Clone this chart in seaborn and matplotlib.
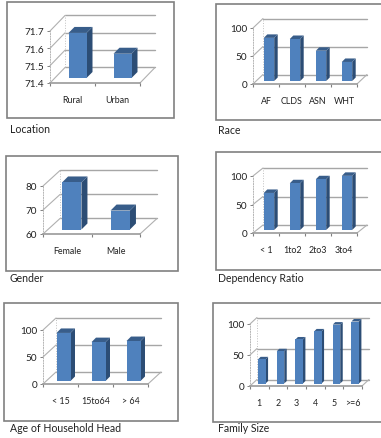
import matplotlib
matplotlib.use("Agg")
import matplotlib.pyplot as plt
import seaborn as sns
import pandas as pd
from matplotlib.patches import Polygon, Rectangle
from matplotlib.transforms import Affine2D, IdentityTransform

# valores
location_cat = ["Rural", "Urban"]
location_val = [71.66, 71.54]
race_cat = ["AF", "CLDS", "ASN", "WHT"]
race_val = [77, 75, 54, 34]
gender_cat = ["Female", "Male"]
gender_val = [79.6, 67.9]
dep_cat = ["< 1", "1to2", "2to3", "3to4"]
dep_val = [65, 82, 89, 95]
age_cat = ["< 15", "15to64", "> 64"]
age_val = [89, 72, 74]
family_cat = ["1", "2", "3", "4", "5", ">=6"]
family_val = [39, 52, 71, 84, 95, 100]

W, H = 381, 439
FONT = "Lato"

sns.set_theme(style="white")
plt.rcParams["font.family"] = FONT

fig = plt.figure(figsize=(W / 100, H / 100), dpi=100)
fig.patch.set_facecolor("white")


def painel(cat, val, yticks, ylabels, legenda, frame, eixo, prof, d, esp):
    # frame = x0,y0,x1,y1 em pixels / eixo = x0,x1,y_chao,y_topo
    fx0, fy0, fx1, fy1 = frame
    fig.add_artist(Rectangle((fx0 / W, 1 - fy1 / H), (fx1 - fx0) / W, (fy1 - fy0) / H,
                             transform=fig.transFigure, fc="white", ec="#808080", lw=1.2, zorder=-1))
    x0, x1, yc, yt = eixo
    ax = fig.add_axes([x0 / W, 1 - yc / H, (x1 - x0) / W, (yc - yt) / H])
    ax.patch.set_alpha(0)
    df = pd.DataFrame({"cat": cat, "val": val})
    sns.barplot(data=df, x="cat", y="val", ax=ax, color="#4f81bd", saturation=1, width=0.4)
    n = len(cat)
    ymin, ymax = yticks[0], yticks[-1]
    ax.set_xlim(-0.5, n - 0.5)
    ax.set_ylim(ymin, ymax)
    ax.set_xlabel("")
    ax.set_ylabel("")

    dx, dy = prof
    fundo = ax.transData + Affine2D().translate(dx, dy)
    # grade do fundo e parede
    for t in yticks:
        ax.plot([-0.5, n - 0.5], [t, t], transform=fundo, color="#a6a6a6", lw=1, clip_on=False, zorder=1)
        ax.plot([-0.5, -0.5 + dx / (x1 - x0) * n], [t, t + dy / (yc - yt) * (ymax - ymin)],
                color="#b0b0b0", lw=0.8, clip_on=False, zorder=1)
    ax.plot([n - 0.5, n - 0.5 + dx / (x1 - x0) * n], [ymin, ymin + dy / (yc - yt) * (ymax - ymin)],
            color="#b0b0b0", lw=0.8, clip_on=False, zorder=1)
    ax.plot([-0.5, -0.5], [ymin, ymax], transform=fundo, color="#c0c0c0", lw=0.7, ls=":", clip_on=False, zorder=1)

    # barras com lado e topo
    desloca = ax.transData + Affine2D().translate(d, d)
    for p in ax.patches:
        topo = p.get_y() + p.get_height()
        p.set_y(ymin)
        p.set_height(topo - ymin)
        p.set_transform(desloca)
        p.set_clip_on(False)
        p.set_linewidth(0)
        p.set_zorder(4)
        xa, xb = p.get_x(), p.get_x() + p.get_width()
        (pa, pt), (pb, pc) = desloca.transform([(xa, topo), (xb, ymin)])
        ax.add_patch(Polygon([(pb, pc), (pb + esp, pc + esp), (pb + esp, pt + esp), (pb, pt)],
                             transform=IdentityTransform(), fc="#2c4d75", lw=0, clip_on=False, zorder=3))
        ax.add_patch(Polygon([(pa, pt), (pb, pt), (pb + esp, pt + esp), (pa + esp, pt + esp)],
                             transform=IdentityTransform(), fc="#385d8a", lw=0, clip_on=False, zorder=3))

    sns.despine(ax=ax, top=True, right=True)
    ax.spines["bottom"].set_color("#9a9a9a")
    ax.spines["bottom"].set_linewidth(1.2)
    ax.spines["left"].set_color("#b5b5b5")
    ax.spines["left"].set_linewidth(0.7)
    ax.spines["left"].set_linestyle(":")
    ax.set_yticks(yticks, ylabels)
    ax.set_xticks(range(n), cat)
    ax.set_xticks([i - 0.5 for i in range(n + 1)], minor=True)
    ax.tick_params(axis="x", which="major", length=0, pad=8.5, labelsize=6.4, labelcolor="#222222")
    ax.tick_params(axis="x", which="minor", bottom=True, length=2, width=0.8, color="#808080")
    ax.tick_params(axis="y", left=True, length=2.5, width=0.7, color="#808080", pad=1.5,
                   labelsize=7.2, labelcolor="#222222")
    fig.text(legenda[0] / W, 1 - legenda[1] / H, legenda[2], fontsize=7.6, color="#222222",
             ha="left", va="center")


painel(location_cat, location_val, [71.4, 71.5, 71.6, 71.7], ["71.4", "71.5", "71.6", "71.7"],
       (10, 130, "Location"), (7, 3, 174, 119), (50, 140, 84, 32), (15, 15.5), 5, 6)
painel(race_cat, race_val, [0, 50, 100], ["0", "50", "100"],
       (218, 131, "Race"), (216, 5, 390, 121), (253, 357, 85, 29), (10, 9.5), 3, 3.5)
painel(gender_cat, gender_val, [60, 70, 80], ["60", "70", "80"],
       (10, 279, "Gender"), (6, 157, 178, 272), (43, 140, 235, 187), (17, 15.5), 4.5, 6)
painel(dep_cat, dep_val, [0, 50, 100], ["0", "50", "100"],
       (218, 279, "Dependency Ratio"), (216, 153, 390, 271), (253, 357, 234, 177), (10, 8), 3, 3.5)
painel(age_cat, age_val, [0, 50, 100], ["0", "50", "100"],
       (10, 429, "Age of Household Head"), (4, 304, 178, 422), (43, 148, 385, 331), (13, 12), 3, 4.5)
painel(family_cat, family_val, [0, 50, 100], ["0", "50", "100"],
       (218, 429, "Family Size"), (213, 304, 390, 423), (250, 362, 387, 325), (7, 6.5), 2.5, 2.5)

fig.savefig("out.png", dpi=100)
